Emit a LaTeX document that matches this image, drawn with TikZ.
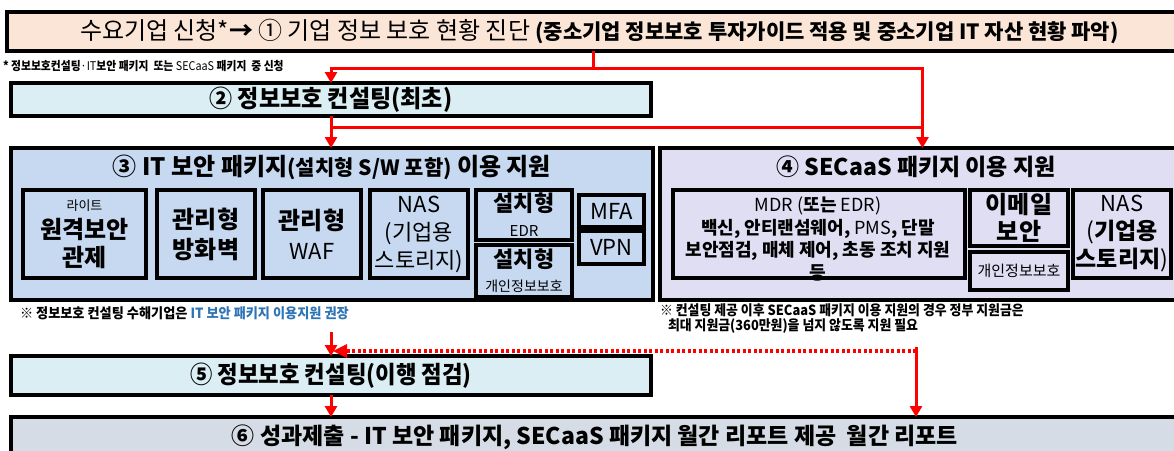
\documentclass[tikz,border=0pt]{standalone}
\usepackage{fontspec}
\usepackage{graphicx}
\setmainfont{Noto Sans CJK KR}
\usetikzlibrary{arrows.meta}
\definecolor{peach}{HTML}{FBE5D6}
\definecolor{cyanbox}{HTML}{DAEEF3}
\definecolor{bluebox}{HTML}{C6D9F1}
\definecolor{lavbox}{HTML}{E0DEF3}
\definecolor{graybox}{HTML}{D6DCE5}
\definecolor{notblue}{HTML}{2E75B6}
\newcommand\fs[2][1.2]{\fontsize{#2pt}{#1\dimexpr#2pt\relax}\selectfont}
\newcommand\cond[2][0.76]{\scalebox{#1}[1]{#2}}
\newcommand\BX[7]{\node[#1, minimum width={#4-#2}, minimum height={#5-#3}] (#6) at (#2,#3) {#7};}
\begin{document}
\begin{tikzpicture}[x=1pt,y=-1pt,
  box/.style={draw=black, line width=4.5pt, inner sep=0pt, outer sep=0pt, anchor=north west, align=center},
  ibox/.style={draw=black, line width=4pt, inner sep=0pt, outer sep=0pt, anchor=north west, align=center},
  ls/.style={font=\fontsize{10pt}{#1pt}\selectfont},
  rl/.style={draw=red, line width=3pt},
  ra/.style={rl, -{Triangle[length=11pt,width=12pt]}},
  rdot/.style={draw=red, line width=3.5pt, dash pattern=on 3pt off 2.5pt},
  lbl/.style={inner sep=0pt, outer sep=0pt, align=center}
]
\useasboundingbox (0,0) rectangle (1174,450);
\fill[white] (0,0) rectangle (1174,450);

% top box
\BX{box, fill=peach}{7}{12}{1185}{51}{top}{}
\node[lbl, anchor=west] (toptxt) at (80,31) {\fs{24}수요기업 신청*{\bfseries →} ① 기업 정보 보호 현황 진단 {\fs{21}\bfseries(중소기업 정보보호 투자가이드 적용 및 중소기업 IT 자산 현황 파악)}};
\node[lbl, anchor=west] (fn) at (3,66) {\cond[0.9]{\fs{12}\bfseries * 정보보호컨설팅{\mdseries·IT}보안 패키지 \ 또는 {\mdseries SECaaS} 패키지 \ 중 신청}};

% step 2
\BX{box, fill=cyanbox}{11}{83}{651}{116}{c2}{\cond[0.96]{\fs{24}\bfseries ② 정보보호 컨설팅(최초)}}

% step 3
\BX{box, fill=bluebox}{11}{148}{653}{300}{c3}{}
\node[lbl] (t3) at (332,167) {\fs{24}\bfseries ③ IT 보안 패키지{\fs{21}(설치형 S/W 포함)} 이용 지원};
\BX{ibox, fill=bluebox, ls=28}{23}{190}{146}{278}{lite}{\fs{13}라이트\\\fs{24}\bfseries 원격보안\\\fs{24}\bfseries 관제}
\BX{ibox, fill=bluebox, ls=30}{157}{190}{255}{278}{fw}{\fs{24}\bfseries 관리형\\\fs{24}\bfseries 방화벽}
\BX{ibox, fill=bluebox, ls=30}{263}{190}{361}{278}{waf}{\fs{24}\bfseries 관리형\\\fs{22}WAF}
\BX{ibox, fill=bluebox, ls=28}{370}{190}{468}{278}{nas}{\fs{22}NAS\\\fs{22}(기업용\\\fs{22}스토리지)}
\BX{ibox, fill=bluebox, ls=25}{476}{190}{572}{240}{edr}{\fs{22}\bfseries 설치형\\\fs{15}EDR}
\BX{ibox, fill=bluebox, ls=24}{476}{245}{572}{297}{priv}{\fs{22}\bfseries 설치형\\\fs{14}개인정보보호}
\BX{ibox, fill=bluebox}{579}{195}{644}{227}{mfa}{\fs{22}MFA}
\BX{ibox, fill=bluebox}{579}{231}{644}{264}{vpn}{\fs{22}VPN}

% step 4
\BX{box, fill=lavbox}{660}{148}{1185}{300}{c4}{}
\node[lbl] (t4) at (916,167) {\fs{23}\bfseries ④ SECaaS 패키지 이용 지원};
\BX{ibox, fill=lavbox}{673}{190}{965}{278}{mdr}{}
\node[lbl, ls=22.5] (mdrtxt) at (818,239) {\fs{18}MDR ({\bfseries 또는} EDR)\\\fs{18}\bfseries 백신, 안티랜섬웨어, {\mdseries PMS}, 단말\\\fs{18}\bfseries 보안점검, 매체 제어, 초동 조치 지원\\\fs{18}\bfseries 등};
\BX{ibox, fill=lavbox, ls=27}{970}{190}{1068}{246}{mail}{\fs{24}\bfseries 이메일\\\fs{24}\bfseries 보안}
\BX{ibox, fill=lavbox}{970}{252}{1068}{290}{priv2}{\fs{15}개인정보보호}
\BX{ibox, fill=lavbox, ls=28}{1073}{190}{1171}{278}{nas2}{\fs{22}NAS\\\fs{23}(\textbf{기업용}\\\fs{23}\textbf{스토리지})}

% notes
\node[lbl, anchor=west] (n1) at (20,313) {\cond[0.94]{\fs{14}\bfseries ※ 정보보호 컨설팅 수해기업은 \textcolor{notblue}{IT 보안 패키지 이용지원 권장}}};
\node[lbl, anchor=north west, align=left, ls=15] (n2) at (660,304) {\cond[0.92]{\fs{14}\bfseries ※ 컨설팅 제공 이후 SECaaS 패키지 이용 지원의 경우 정부 지원금은}\\\hspace*{8pt}\cond[0.92]{\fs{14}\bfseries 최대 지원금(360만원)을 넘지 않도록 지원 필요}};

% step 5
\BX{box, fill=cyanbox}{11}{356}{651}{395}{c5}{\cond[0.93]{\fs{24}\bfseries ⑤ 정보보호 컨설팅(이행 점검)}}

% step 6
\BX{box, fill=graybox}{11}{417}{1185}{470}{c6}{}
\node[lbl] (t6) at (595,437) {\cond[1.0]{\fs{23}\bfseries ⑥ 성과제출 - IT 보안 패키지, SECaaS 패키지 월간 리포트 제공\ \ 월간 리포트}};

% connectors
\coordinate (j1) at (593,68);
\draw[rl] (top.south -| j1) -- (j1);
\draw[ra] (j1) -| (c2.north);
\draw[ra] (j1) -| (c4.north);
\draw[ra] (c2.south) -- (c3.north -| c2.south);
\coordinate (j2) at (331,127);
\draw[rl] (j2) -- (j2 -| c4.north);
\coordinate (s5) at (331,332);
\draw[ra] (s5) -- (c5.north);
\coordinate (s6) at (916,347);
\draw[ra] (s6) -- (s6 |- c6.north);
\coordinate (d1) at (916,351);
\draw[rdot] (d1) -- (345,351);
\fill[red] (333,351) -- (347,344) -- (347,358) -- cycle;
\draw[ra] (c5.south) -- (c5.south |- c6.north);
\end{tikzpicture}
\end{document}
